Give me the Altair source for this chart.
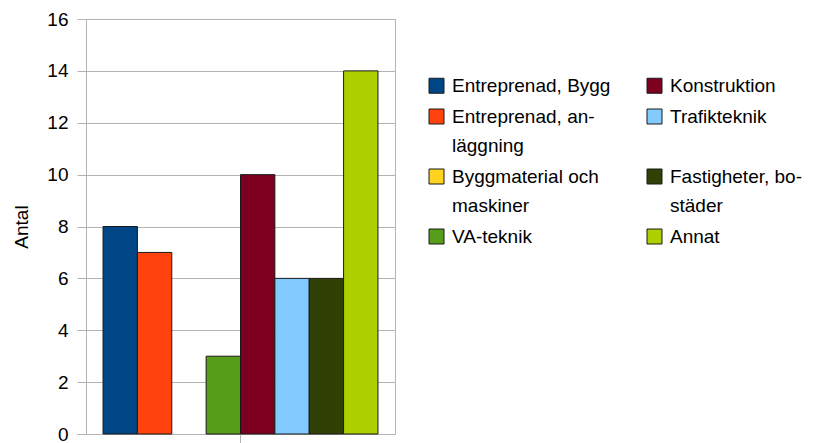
import json
import altair as alt
import pandas as pd

# ---- data ----
series = [
    "Entreprenad, Bygg",
    "Entreprenad, anläggning",
    "Byggmaterial och maskiner",
    "VA-teknik",
    "Konstruktion",
    "Trafikteknik",
    "Fastigheter, bostäder",
    "Annat",
]
values = [8, 7, 0, 3, 10, 6, 6, 14]
colors = ["#004586", "#ff420e", "#ffd320", "#579d1c", "#7e0021", "#83caff", "#314004", "#aecf00"]
legend_lines = [
    ["Entreprenad, Bygg"],
    ["Entreprenad, an-", "läggning"],
    ["Byggmaterial och", "maskiner"],
    ["VA-teknik"],
    ["Konstruktion"],
    ["Trafikteknik"],
    ["Fastigheter, bo-", "städer"],
    ["Annat"],
]
y_ticks = [0, 2, 4, 6, 8, 10, 12, 14, 16]
y_title = "Antal"

label_map = {s: l for s, l in zip(series, legend_lines)}
label_expr = json.dumps(label_map, ensure_ascii=False) + "[datum.label]"

df = pd.DataFrame({"grupp": ["alla"] * len(series), "serie": series, "antal": values})

GRAY = "#b3b3b3"
FONT = "Liberation Sans"

chart = (
    alt.Chart(df)
    .mark_bar(stroke="#1a1a1a", strokeWidth=1)
    .encode(
        x=alt.X(
            "grupp:N",
            scale=alt.Scale(paddingInner=0, paddingOuter=0.062),
            axis=alt.Axis(
                title=None, labels=False, ticks=True, tickSize=9,
                tickColor=GRAY, domainColor=GRAY, grid=False,
            ),
        ),
        xOffset=alt.XOffset("serie:N", sort=series, scale=alt.Scale(paddingInner=0, paddingOuter=0)),
        y=alt.Y(
            "antal:Q",
            scale=alt.Scale(domain=[0, 16], nice=False),
            axis=alt.Axis(
                values=y_ticks, title=y_title, tickSize=9, tickColor=GRAY,
                domainColor=GRAY, gridColor=GRAY, labelPadding=9,
                labelFont=FONT, labelFontSize=19, labelColor="#000",
                titleFont=FONT, titleFontSize=19, titleFontWeight="normal", titleColor="#000",
                titleAngle=270, titleX=-65, titleY=207.5, titleAlign="center", titleBaseline="middle",
            ),
        ),
        color=alt.Color(
            "serie:N",
            scale=alt.Scale(domain=series, range=colors),
            legend=alt.Legend(
                title=None, orient="none", legendX=341, legendY=57, columns=2,
                columnPadding=34, rowPadding=11, padding=0,
                symbolType="square", symbolSize=225, symbolStrokeColor="#1a1a1a",
                symbolStrokeWidth=1, symbolOpacity=1,
                labelFont=FONT, labelFontSize=19, labelColor="#000", labelOffset=6,
                labelLimit=400, labelExpr=label_expr,
            ),
        ),
        strokeOpacity=alt.condition("datum.antal > 0", alt.value(1), alt.value(0)),
    )
    .properties(
        width=309,
        height=415,
        autosize=alt.AutoSizeParams(type="none"),
        padding={"left": 78, "top": 11, "right": 423, "bottom": 9},
    )
    .configure(style={"guide-label": {"lineHeight": 29}})
    .configure_view(stroke=GRAY, strokeWidth=1)
)

chart.save("out.html", embed_options={"renderer": "svg", "actions": False})
